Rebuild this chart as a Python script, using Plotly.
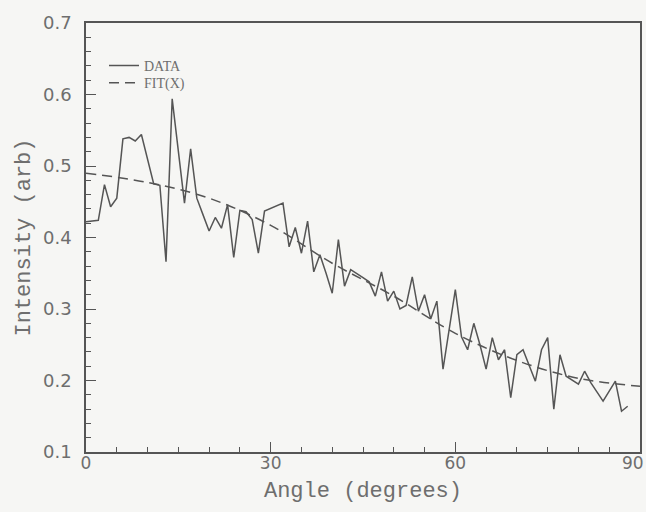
import plotly.graph_objects as go

angle = list(range(0, 89))
intensity = [
    0.422, 0.423, 0.424, 0.474, 0.443, 0.455, 0.538, 0.540, 0.535, 0.544,
    0.510, 0.475, 0.473, 0.366, 0.594, 0.521, 0.448, 0.524, 0.455, 0.432,
    0.409, 0.428, 0.413, 0.446, 0.372, 0.438, 0.436, 0.425, 0.378, 0.437,
    0.441, 0.445, 0.448, 0.387, 0.414, 0.378, 0.423, 0.352, 0.376, 0.350,
    0.322, 0.397, 0.332, 0.355, 0.350, 0.344, 0.338, 0.318, 0.352, 0.311,
    0.325, 0.300, 0.305, 0.345, 0.297, 0.320, 0.286, 0.311, 0.216, 0.272,
    0.327, 0.261, 0.243, 0.280, 0.250, 0.216, 0.260, 0.229, 0.243, 0.176,
    0.236, 0.243, 0.221, 0.199, 0.243, 0.260, 0.160, 0.236, 0.206, 0.200,
    0.195, 0.213, 0.197, 0.184, 0.171, 0.185, 0.199, 0.157, 0.164,
]

fit_angle = [0, 10, 20, 30, 40, 50, 60, 70, 80, 90]
fit_value = [0.490, 0.477, 0.455, 0.417, 0.364, 0.318, 0.266, 0.228, 0.203, 0.192]

x_ticks = [0, 30, 60, 90]
x_labels = ["0", "30", "60", "90"]
y_ticks = [0.1, 0.2, 0.3, 0.4, 0.5, 0.6, 0.7]
y_labels = ["0.1", "0.2", "0.3", "0.4", "0.5", "0.6", "0.7"]

ink = "#555555"
txt = "#6e6e6e"
bg = "#f6f6f4"

fig = go.Figure()
fig.add_trace(go.Scatter(x=angle, y=intensity, mode="lines", name="DATA",
                         legend="legend",
                         line=dict(color=ink, width=1.5)))
fig.add_trace(go.Scatter(x=fit_angle, y=fit_value, mode="lines", name="FIT(X)",
                         legend="legend2",
                         line=dict(color=ink, width=1.5, dash="10px,6px", shape="spline")))

leg_common = dict(xanchor="left", yanchor="middle", bgcolor="rgba(0,0,0,0)",
                  borderwidth=0, itemwidth=30,
                  font=dict(family="Liberation Serif", size=14, color=txt))

tick_font = dict(family="DejaVu Sans", size=17, color=txt)

# last x tick label sits at the right frame edge; keep it inside the page
fig.add_annotation(x=x_ticks[-1], y=0, xref="x", yref="paper", text=x_labels[-1],
                   showarrow=False, xanchor="right", yanchor="top",
                   xshift=6, yshift=1, font=tick_font)

fig.update_layout(
    width=646, height=512,
    margin=dict(l=86, r=6, t=23, b=60),
    paper_bgcolor=bg, plot_bgcolor=bg,
    showlegend=True,
    legend=dict(x=0.0325, y=0.900, **leg_common),
    legend2=dict(x=0.0325, y=0.860, **leg_common),
    xaxis=dict(range=[0, 90], tickvals=x_ticks, ticktext=x_labels[:-1] + [""],
               automargin=False,
               ticks="inside", ticklen=10, tickwidth=1.3, tickcolor=ink,
               minor=dict(dtick=5, ticks="inside", ticklen=5, tickwidth=1.2, tickcolor=ink),
               showline=True, linecolor=ink, linewidth=1.5, mirror=True,
               showgrid=False, zeroline=False, ticklabelstandoff=-5,
               tickfont=tick_font,
               title=dict(text="Angle (degrees)", standoff=9,
                          font=dict(family="Liberation Mono", size=22, color=txt))),
    yaxis=dict(range=[0.1, 0.7], tickvals=y_ticks, ticktext=y_labels,
               automargin=False,
               ticks="inside", ticklen=10, tickwidth=1.3, tickcolor=ink,
               minor=dict(dtick=0.02, ticks="inside", ticklen=5, tickwidth=1.2, tickcolor=ink),
               showline=True, linecolor=ink, linewidth=1.5, mirror=True,
               showgrid=False, zeroline=False, ticklabelstandoff=9,
               tickfont=dict(family="DejaVu Sans", size=18, color=txt),
               title=dict(text="Intensity (arb)", standoff=6,
                          font=dict(family="Liberation Mono", size=22, color=txt))),
)

fig.write_html("out.html", config={"displayModeBar": False},
               post_script="document.body.style.margin='0';document.body.style.overflow='hidden';")
